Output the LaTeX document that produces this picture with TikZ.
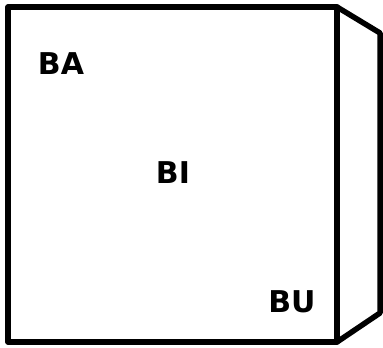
\documentclass[tikz,border=0pt]{standalone}
\usepackage{fontspec}
\setmainfont{DejaVu Sans}
\usetikzlibrary{positioning}

\begin{document}
\begin{tikzpicture}[x=1pt,y=1pt,line join=round,
  edge/.style={line width=5.5pt},
  lbl/.style={font=\fontsize{30}{30}\selectfont\bfseries,inner sep=0pt}]
  \useasboundingbox (0,0) rectangle (383,348);
  % front face
  \coordinate (FL) at (8,6);
  \coordinate (FR) at (337,6);
  \coordinate (TR) at (337,341);
  \coordinate (TL) at (8,341);
  \draw[edge] (FL) -- (FR) -- (TR) -- (TL) -- cycle;
  % side face
  \coordinate (ST) at (380,315);
  \coordinate (SB) at (380,35);
  \draw[edge] (TR) -- (ST) -- (SB) -- (FR);
  \node[lbl] (ba) at (61,284) {BA};
  \node[lbl] (bi) at (173,175) {BI};
  \node[lbl] (bu) at (292,46) {BU};
\end{tikzpicture}
\end{document}
